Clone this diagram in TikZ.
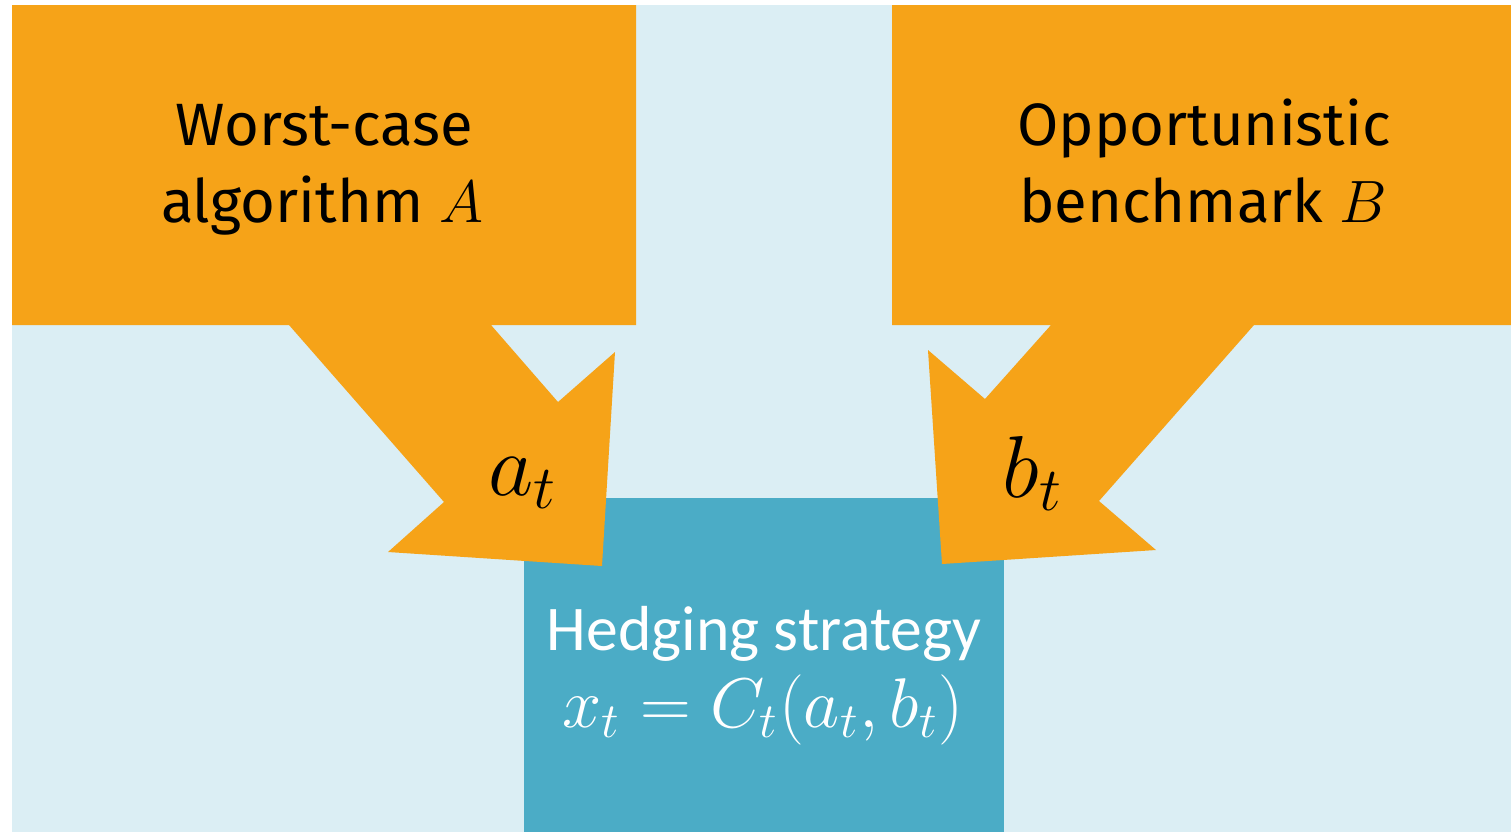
\documentclass[tikz,border=0pt]{standalone}
\usepackage{fix-cm}
\usepackage{fontspec}
\setmainfont{Fira Sans}
\newfontfamily\hedgefont{Carlito}
\definecolor{orng}{HTML}{F6A318}
\definecolor{pale}{HTML}{DBEEF4}
\definecolor{aqua}{HTML}{4BACC6}
\begin{document}
\begin{tikzpicture}[x=0.01cm,y=-0.01cm,
  lbl/.style={anchor=base,inner sep=0pt,font=\fontsize{17}{21.9}\selectfont,text=black},
  hlbl/.style={anchor=base,inner sep=0pt,font=\hedgefont\fontsize{18.1}{21.9}\selectfont,text=white},
  fml/.style={anchor=base,inner sep=0pt,font=\fontsize{20}{24}\selectfont,text=white},
  sym/.style={anchor=base west,inner sep=0pt,font=\fontsize{25}{30}\selectfont,text=black},
  flow/.style={fill=orng,draw=none}]
\useasboundingbox (0,0) rectangle (1511,832);
\fill[pale] (12,5) rectangle (1511,832);
\fill[aqua] (524,498) rectangle (1004,832);
% left box with arrow
\fill[flow] (12,5) -- (636,5) -- (636,325) -- (491,325) -- (558,402) -- (615,352)
  -- (602,566) -- (388,552) -- (444,502) -- (289,325) -- (12,325) -- cycle;
% right box with arrow
\fill[flow] (892,5) -- (1511,5) -- (1511,325) -- (1254,325) -- (1099,501) -- (1156,550)
  -- (942,564) -- (928,350) -- (985,399) -- (1051,325) -- (892,325) -- cycle;
\node[lbl] (wc) at (324,145) {Worst-case};
\node[lbl] (alg) at (322,222) {algorithm $A$};
\node[lbl] (opp) at (1204,145) {Opportunistic};
\node[lbl] (ben) at (1203,222) {benchmark $B$};
\node[sym] (at) at (488,495) {$a_t$};
\node[sym] (bt) at (1002,497) {$b_t$};
\node[hlbl] (hs) at (764,650) {Hedging strategy};
\node[fml] (fx) at (763,727) {$x_t = C_t(a_t,b_t)$};
\end{tikzpicture}
\end{document}
